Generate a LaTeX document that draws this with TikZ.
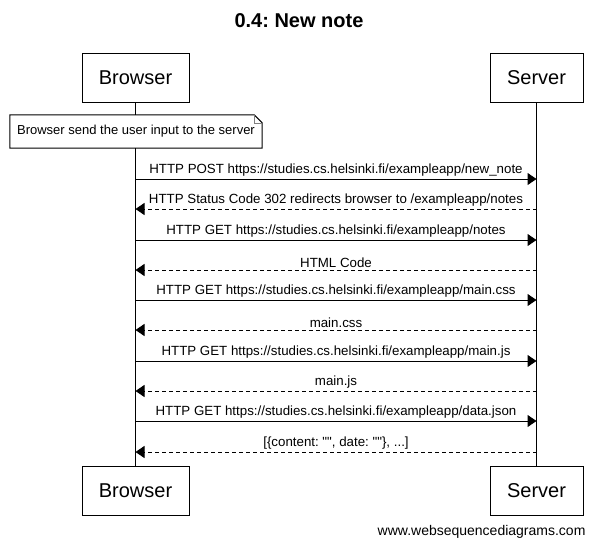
\documentclass[tikz,border=0pt]{standalone}
\usepackage{fontspec}
\setmainfont{Liberation Sans}[Ligatures=TeXOff]
\usetikzlibrary{arrows.meta,positioning,calc}
\frenchspacing

\begin{document}
\begin{tikzpicture}[x=1pt,y=-1pt,
  actor/.style={draw,line width=1pt,minimum height=49pt,font=\fontsize{20}{24}\selectfont},
  msg/.style={line width=1pt,-{Triangle[length=9pt,width=12pt]}},
  reply/.style={msg,dash pattern=on 4pt off 3pt},
  lbl/.style={above=1pt,inner sep=1pt,font=\fontsize{13.3}{15}\selectfont}]
\useasboundingbox[fill=white] (0,0) rectangle (598,549);

\node[font=\bfseries\fontsize{20}{24}\selectfont] (title) at (299,21) {0.4: New note};

% actors
\node[actor,minimum width=107pt] (btop) at (135.5,77.5) {Browser};
\node[actor,minimum width=93pt] (stop) at (536.5,77.5) {Server};
\node[actor,minimum width=107pt] (bbot) at (135.5,491) {Browser};
\node[actor,minimum width=93pt] (sbot) at (536.5,491) {Server};
\draw[line width=1pt] (btop) -- (bbot);
\draw[line width=1pt] (stop) -- (sbot);

% note
\node[minimum width=252pt,minimum height=33pt,inner sep=0pt,fill=white,
  font=\fontsize{13}{15}\selectfont] (note) at (136,131.5) {Browser send the user input to the server};
\draw[line width=1pt] (note.south west) -- (note.north west) -- ($(note.north east)+(-8,0)$)
  -- ($(note.north east)+(0,8)$) -- (note.south east) -- cycle;
\draw[line width=0.6pt,gray] ($(note.north east)+(-8,0)$) |- ($(note.north east)+(0,8)$);

% messages
\coordinate (b1) at (135.5,179);  \coordinate (s1) at (536.5,179);
\coordinate (b2) at (135.5,209);  \coordinate (s2) at (536.5,209);
\coordinate (b3) at (135.5,240);  \coordinate (s3) at (536.5,240);
\coordinate (b4) at (135.5,270);  \coordinate (s4) at (536.5,270);
\coordinate (b5) at (135.5,300);  \coordinate (s5) at (536.5,300);
\coordinate (b6) at (135.5,330);  \coordinate (s6) at (536.5,330);
\coordinate (b7) at (135.5,361);  \coordinate (s7) at (536.5,361);
\coordinate (b8) at (135.5,391);  \coordinate (s8) at (536.5,391);
\coordinate (b9) at (135.5,421);  \coordinate (s9) at (536.5,421);
\coordinate (b10) at (135.5,452); \coordinate (s10) at (536.5,452);

\draw[msg] (b1) -- node[lbl] {HTTP POST https://studies.cs.helsinki.fi/exampleapp/new\_note} (s1);
\draw[reply] (s2) -- node[lbl] {HTTP Status Code 302 redirects browser to /exampleapp/notes} (b2);
\draw[msg] (b3) -- node[lbl] {HTTP GET https://studies.cs.helsinki.fi/exampleapp/notes} (s3);
\draw[reply] (s4) -- node[lbl] {HTML Code} (b4);
\draw[msg] (b5) -- node[lbl] {HTTP GET https://studies.cs.helsinki.fi/exampleapp/main.css} (s5);
\draw[reply] (s6) -- node[lbl] {main.css} (b6);
\draw[msg] (b7) -- node[lbl] {HTTP GET https://studies.cs.helsinki.fi/exampleapp/main.js} (s7);
\draw[reply] (s8) -- node[lbl] {main.js} (b8);
\draw[msg] (b9) -- node[lbl] {HTTP GET https://studies.cs.helsinki.fi/exampleapp/data.json} (s9);
\draw[reply] (s10) -- node[lbl] {[\{content: "", date: ""\}, ...]} (b10);

\node[anchor=east,font=\fontsize{14}{16}\selectfont] (credit) at (589,532) {www.websequencediagrams.com};
\end{tikzpicture}
\end{document}
